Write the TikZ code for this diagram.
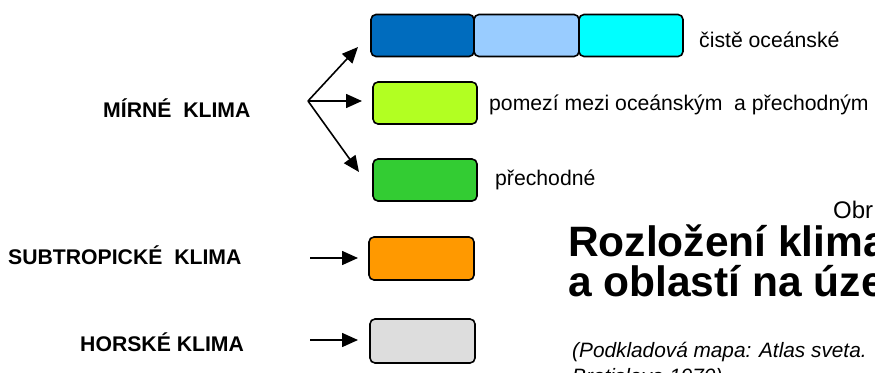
\documentclass[tikz,border=0pt]{standalone}
\usepackage{fontspec}
\setmainfont{Liberation Sans}
\usetikzlibrary{arrows.meta}
\definecolor{cdblue}{RGB}{0,108,190}
\definecolor{clblue}{RGB}{153,204,255}
\definecolor{ccyan}{RGB}{0,255,255}
\definecolor{clime}{RGB}{178,255,34}
\definecolor{cgreen}{RGB}{51,204,51}
\definecolor{corange}{RGB}{255,153,0}
\definecolor{cgrey}{RGB}{221,221,221}
\begin{document}
\begin{tikzpicture}[x=1pt,y=-1pt,
  cbox/.style={draw=black, line width=1.6pt, rounded corners=5pt, minimum height=42pt, inner sep=0pt},
  lbl/.style={font=\fontsize{21.2}{24}\selectfont\bfseries, anchor=base west, inner sep=0pt},
  txt/.style={font=\fontsize{21.2}{24}\selectfont, anchor=base west, inner sep=0pt},
  arr/.style={line width=1.6pt, -{Triangle[length=16pt,width=14pt]}}]
\useasboundingbox (0,0) rectangle (875,372);
\clip (0,0) rectangle (875,372);
% boxes
\node[cbox, fill=cdblue, minimum width=103pt] (b1) at (422.5,35.5) {};
\node[cbox, fill=clblue, minimum width=105pt] (b2) at (526.5,35.5) {};
\node[cbox, fill=ccyan, minimum width=104pt] (b3) at (631,35.5) {};
\node[cbox, fill=clime, minimum width=104pt] (b4) at (425,103) {};
\node[cbox, fill=cgreen, minimum width=104pt] (b5) at (425,180) {};
\node[cbox, fill=corange, minimum width=105pt, minimum height=43pt] (b6) at (421.5,258.5) {};
\node[cbox, fill=cgrey, minimum width=105pt, minimum height=44pt] (b7) at (422.5,341) {};
% labels
\node[txt] (t1) at (699,47) {čistě oceánské};
\node[txt] (t2) at (489,110) {pomezí mezi oceánským\ \ a přechodným};
\node[txt] (t3) at (495,185) {přechodné};
\node[lbl] (l1) at (103,117) {MÍRNÉ\ \ KLIMA};
\node[lbl] (l2) at (8,264) {SUBTROPICKÉ\ \ KLIMA};
\node[lbl] (l3) at (80,351) {HORSKÉ KLIMA};
% arrows
\coordinate (o) at (308,101);
\coordinate (a1) at (358,47);
\coordinate (a2) at (362,101);
\coordinate (a3) at (359,172);
\draw[arr] (o) -- (a1);
\draw[arr] (o) -- (a2);
\draw[arr] (o) -- (a3);
\coordinate (s0) at (310,258);
\coordinate (s1) at (358,258);
\draw[arr] (s0) -- (s1);
\coordinate (h0) at (310,340);
\coordinate (h1) at (358,340);
\draw[arr] (h0) -- (h1);
% title
\node[txt, font=\fontsize{24}{26}\selectfont] (obr) at (833,218) {Obr};
\node[lbl, font=\fontsize{42.5}{44}\selectfont\bfseries] (ti1) at (568,256) {Rozložení klima};
\node[lbl, font=\fontsize{42.5}{44}\selectfont\bfseries] (ti2) at (568,296) {a oblastí na úze};
\node[txt, font=\fontsize{20.8}{24}\selectfont\itshape] (su1) at (572,357) {(Podkladová mapa: Atlas sveta.};
\node[txt, font=\fontsize{20.8}{24}\selectfont\itshape] (su2) at (572,383) {Bratislava 1970)};
\end{tikzpicture}
\end{document}
